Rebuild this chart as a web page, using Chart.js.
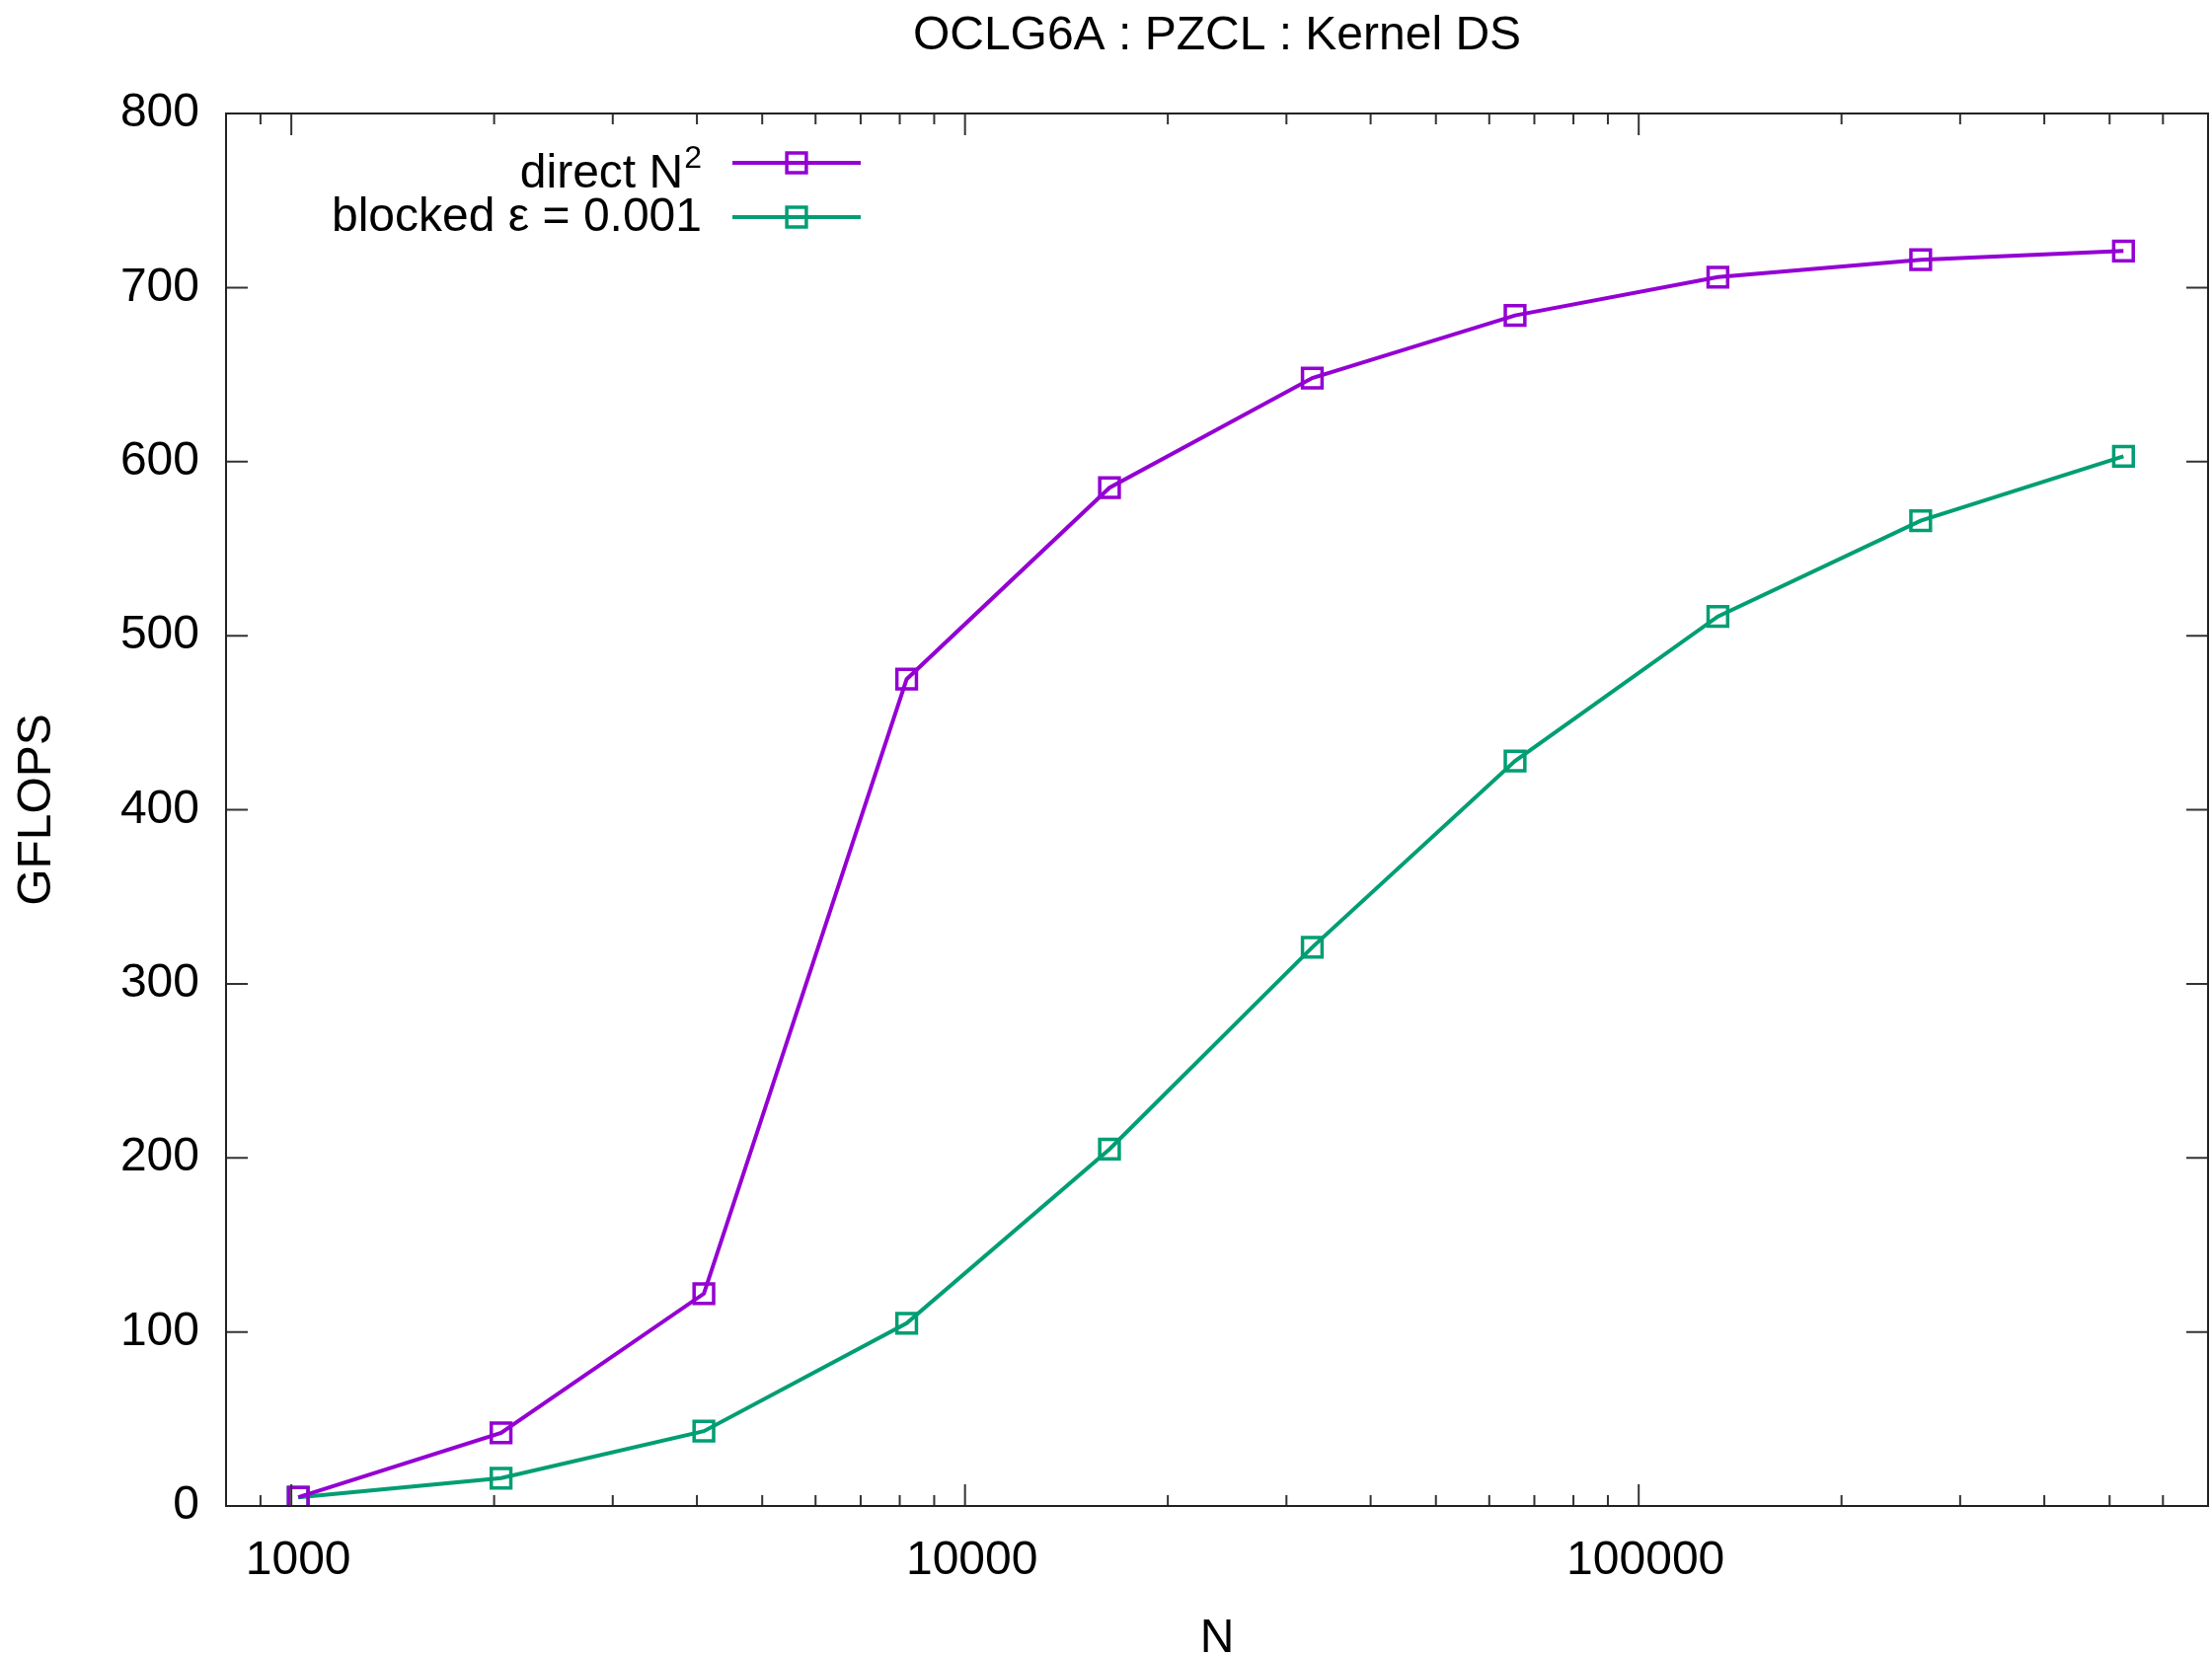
<!DOCTYPE html>
<html>
<head>
<meta charset="utf-8">
<script src="https://cdn.jsdelivr.net/npm/chart.js@4.4.1/dist/chart.umd.min.js"></script>
<style>
  html, body { margin: 0; padding: 0; background: #ffffff; overflow: hidden; }
  #wrap { width: 2241px; height: 1678px; position: relative; }
</style>
</head>
<body>
<div id="wrap"><canvas id="c"></canvas></div>
<script>
// ---- data ----
const chartTitle = 'OCLG6A : PZCL : Kernel DS';
const xAxisTitle = 'N';
const yAxisTitle = 'GFLOPS';
const nValues    = [1024, 2048, 4096, 8192, 16384, 32768, 65536, 131072, 262144, 524288];
const directN2   = [5, 42, 122, 475, 585, 648, 684, 706, 716, 721];
const blockedEps = [5, 16, 43, 105, 205, 321, 428, 511, 566, 603];
const seriesLabels = ['direct N', 'blocked \u03b5 = 0.001'];
const seriesSup    = ['2', ''];
const seriesColors = ['#9400D3', '#009E73'];
const xMajorTicks  = [1000, 10000, 100000];
const yTickValues  = [0, 100, 200, 300, 400, 500, 600, 700, 800];
const xRange = [800, 700000];
const yRange = [0, 800];

const FONT = "'Liberation Sans', Arial, Helvetica, sans-serif";
Chart.defaults.font.family = FONT;
Chart.defaults.color = '#000000';

function toPoints(xs, ys) { return xs.map((x, i) => ({ x: x, y: ys[i] })); }

// gnuplot-style frame with inward ticks on all four sides
const framePlugin = {
  id: 'gnuFrame',
  afterDraw(chart) {
    const { ctx, chartArea: a, scales } = chart;
    const x = scales.x, y = scales.y;
    ctx.save();
    ctx.strokeStyle = '#333333';
    ctx.lineWidth = 2;
    ctx.beginPath();
    for (const v of yTickValues) {
      const py = y.getPixelForValue(v);
      ctx.moveTo(a.left, py); ctx.lineTo(a.left + 22, py);
      ctx.moveTo(a.right, py); ctx.lineTo(a.right - 22, py);
    }
    // minor log ticks
    const minors = [];
    for (let d = 100; d <= xRange[1]; d *= 10) {
      for (let m = 2; m <= 9; m++) {
        const v = m * d;
        if (v >= xRange[0] && v <= xRange[1]) minors.push(v);
      }
    }
    for (const v of minors) {
      const px = x.getPixelForValue(v);
      ctx.moveTo(px, a.bottom); ctx.lineTo(px, a.bottom - 11);
      ctx.moveTo(px, a.top); ctx.lineTo(px, a.top + 11);
    }
    for (const v of xMajorTicks) {
      const px = x.getPixelForValue(v);
      ctx.moveTo(px, a.bottom); ctx.lineTo(px, a.bottom - 22);
      ctx.moveTo(px, a.top); ctx.lineTo(px, a.top + 22);
    }
    ctx.stroke();
    ctx.strokeStyle = '#222222';
    ctx.lineWidth = 2;
    ctx.strokeRect(a.left, a.top, a.right - a.left, a.bottom - a.top);
    ctx.restore();
  }
};

// gnuplot-style key: right-justified text, then line sample with marker
const keyPlugin = {
  id: 'gnuKey',
  afterDatasetsDraw(chart, args, opts) {
    const { ctx } = chart;
    ctx.save();
    chart.data.datasets.forEach((ds, i) => {
      const rowY = opts.rows[i];
      const textY = opts.textBase[i];
      ctx.fillStyle = '#000000';
      ctx.textBaseline = 'alphabetic';
      let right = opts.textRight;
      const sup = seriesSup[i];
      if (sup) {
        ctx.font = '32px ' + FONT;
        const w = ctx.measureText(sup).width;
        ctx.textAlign = 'left';
        ctx.fillText(sup, right - w, textY - 20);
        right = right - w - 1;
      }
      ctx.font = '48px ' + FONT;
      ctx.textAlign = 'right';
      ctx.fillText(ds.label, right, textY);
      // sample line
      ctx.strokeStyle = ds.borderColor;
      ctx.lineWidth = ds.borderWidth;
      ctx.beginPath();
      ctx.moveTo(opts.lineX0, rowY);
      ctx.lineTo(opts.lineX1, rowY);
      ctx.stroke();
      ctx.fillStyle = 'rgba(0,0,0,0)';
      ctx.lineWidth = ds.pointBorderWidth;
      Chart.helpers.drawPoint(ctx, {
        pointStyle: 'rect', radius: ds.pointRadius, borderWidth: ds.pointBorderWidth, rotation: 0
      }, (opts.lineX0 + opts.lineX1) / 2, rowY);
    });
    ctx.restore();
  }
};

const datasets = [directN2, blockedEps].map((vals, i) => ({
  label: seriesLabels[i],
  data: toPoints(nValues, vals),
  borderColor: seriesColors[i],
  backgroundColor: 'transparent',
  borderWidth: 4,
  tension: 0,
  pointStyle: 'rect',
  pointRadius: 14,
  pointBorderWidth: 3.5,
  pointBackgroundColor: 'rgba(0,0,0,0)',
  pointBorderColor: seriesColors[i]
}));

new Chart(document.getElementById('c'), {
  type: 'line',
  data: { datasets: datasets },
  options: {
    responsive: true,
    maintainAspectRatio: false,
    animation: false,
    devicePixelRatio: 1,
    layout: { autoPadding: false, padding: { left: 0, right: 4, top: 0, bottom: 0 } },
    plugins: {
      legend: { display: false },
      tooltip: { enabled: false },
      title: {
        display: true,
        text: chartTitle,
        fullSize: false,
        color: '#000000',
        font: { size: 48, weight: 'normal', family: FONT },
        padding: { top: 8, bottom: 49.4 }
      },
      gnuKey: {
        rows: [165, 220],
        textBase: [190, 234],
        textRight: 711,
        lineX0: 742,
        lineX1: 872
      }
    },
    scales: {
      x: {
        type: 'logarithmic',
        position: 'bottom',
        min: xRange[0],
        max: xRange[1],
        grid: { display: false, drawTicks: false },
        border: { display: false },
        afterBuildTicks: (s) => { s.ticks = xMajorTicks.map(v => ({ value: v, major: true })); },
        afterFit: (s) => { s.height = 152; },
        ticks: {
          autoSkip: false,
          maxRotation: 0,
          padding: 27,
          labelOffset: 7,
          color: '#000000',
          font: { size: 48, family: FONT },
          callback: (v) => String(v)
        },
        title: {
          display: true,
          text: xAxisTitle,
          color: '#000000',
          font: { size: 48, family: FONT, lineHeight: 0.72 },
          padding: { top: 0, bottom: 0 }
        }
      },
      y: {
        type: 'linear',
        position: 'left',
        min: yRange[0],
        max: yRange[1],
        grid: { display: false, drawTicks: false },
        border: { display: false },
        afterBuildTicks: (s) => { s.ticks = yTickValues.map(v => ({ value: v })); },
        afterFit: (s) => { s.width = 229; },
        ticks: {
          autoSkip: false,
          padding: 27,
          color: '#000000',
          font: { size: 48, family: FONT },
          callback: (v) => String(v)
        },
        title: {
          display: true,
          text: yAxisTitle,
          color: '#000000',
          font: { size: 48, family: FONT },
          padding: { top: 9, bottom: 0 }
        }
      }
    }
  },
  plugins: [framePlugin, keyPlugin]
});
</script>
</body>
</html>
